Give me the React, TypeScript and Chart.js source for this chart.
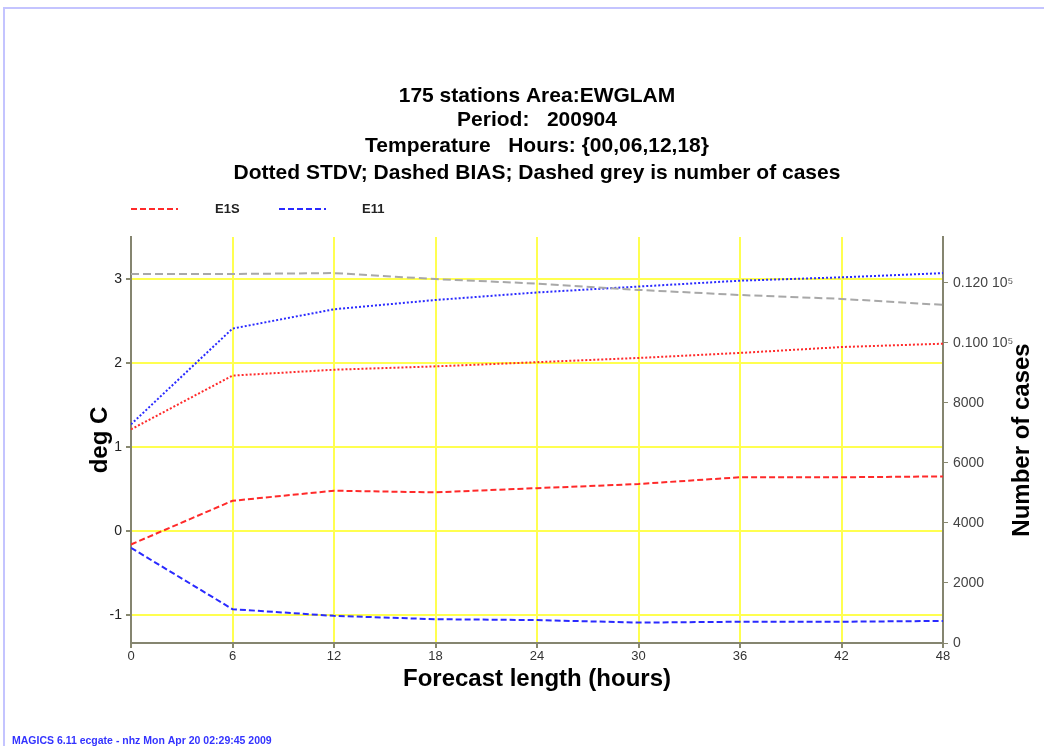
import React, { useEffect, useRef } from "react";
import { Chart, registerables } from "chart.js";

Chart.register(...registerables);

// ---- data ----
const hours = [0, 6, 12, 18, 24, 30, 36, 42, 48];
const e1sStdv = [1.21, 1.85, 1.92, 1.96, 2.01, 2.06, 2.12, 2.19, 2.23];
const e11Stdv = [1.27, 2.41, 2.64, 2.75, 2.84, 2.91, 2.98, 3.02, 3.07];
const e1sBias = [-0.16, 0.36, 0.48, 0.46, 0.51, 0.56, 0.64, 0.64, 0.65];
const e11Bias = [-0.2, -0.93, -1.01, -1.05, -1.06, -1.09, -1.08, -1.08, -1.07];
const cases = [12300, 12300, 12330, 12130, 11980, 11770, 11600, 11470, 11270];

const degTicks = [-1, 0, 1, 2, 3];
const caseTicks = [0, 2000, 4000, 6000, 8000, 10000, 12000];
const caseTickLabels = ["0", "2000", "4000", "6000", "8000", "0.100 10\u2075", "0.120 10\u2075"];
const hourTicks = [0, 6, 12, 18, 24, 30, 36, 42, 48];

const titleLines = [
  "175 stations Area:EWGLAM",
  "Period:   200904",
  "Temperature   Hours: {00,06,12,18}",
  "Dotted STDV; Dashed BIAS; Dashed grey is number of cases",
];
const legendLabels = ["E1S", "E11"];
const xTitle = "Forecast length (hours)";
const yTitle = "deg C";
const y1Title = "Number of cases";
const footer = "MAGICS 6.11 ecgate - nhz Mon Apr 20 02:29:45 2009";

const RED = "#ff2a2a";
const BLUE = "#2a2aff";
const GREY = "#a8a8a8";
const GRID = "#ffff50";
const FONT = "'Liberation Sans', Arial, sans-serif";

const pts = (ys: number[]) => hours.map((h, i) => ({ x: h, y: ys[i] }));

const textPlugin = {
  id: "textPlugin",
  afterDraw(chart: any) {
    const { ctx, chartArea } = chart;
    const cx = (chartArea.left + chartArea.right) / 2;
    ctx.save();
    // title
    ctx.fillStyle = "#000";
    ctx.textAlign = "center";
    ctx.textBaseline = "middle";
    ctx.font = `bold 21px ${FONT}`;
    const ty = [96, 120, 146, 173];
    titleLines.forEach((t, i) => ctx.fillText(t, cx, ty[i]));

    // legend
    const legendCols = [RED, BLUE];
    const sampleX = [131, 279];
    const textX = [215, 362];
    legendLabels.forEach((l, i) => {
      ctx.strokeStyle = legendCols[i];
      ctx.lineWidth = 2;
      ctx.setLineDash([6, 3]);
      ctx.beginPath();
      ctx.moveTo(sampleX[i], 209);
      ctx.lineTo(sampleX[i] + 47, 209);
      ctx.stroke();
      ctx.setLineDash([]);
      ctx.fillStyle = "#222";
      ctx.textAlign = "left";
      ctx.font = `bold 13px ${FONT}`;
      ctx.fillText(l, textX[i], 209);
    });

    // axis titles
    ctx.fillStyle = "#000";
    ctx.font = `bold 24px ${FONT}`;
    ctx.textAlign = "center";
    ctx.fillText(xTitle, cx, 679);

    ctx.save();
    ctx.translate(100, 440);
    ctx.rotate(-Math.PI / 2);
    ctx.fillText(yTitle, 0, 0);
    ctx.restore();

    ctx.save();
    ctx.translate(1022, 440);
    ctx.rotate(-Math.PI / 2);
    ctx.fillText(y1Title, 0, 0);
    ctx.restore();

    // footer
    ctx.fillStyle = "#3333ff";
    ctx.textAlign = "left";
    ctx.font = `bold 10.5px ${FONT}`;
    ctx.fillText(footer, 12, 741);
    ctx.restore();
  },
};

export default function App() {
  const ref = useRef<HTMLCanvasElement | null>(null);
  useEffect(() => {
    if (!ref.current) return;
    const chart = new Chart(ref.current, {
      type: "line",
      data: {
        datasets: [
          {
            label: "cases",
            data: pts(cases),
            yAxisID: "y1",
            borderColor: GREY,
            borderWidth: 2,
            borderDash: [8, 4],
            pointRadius: 0,
            tension: 0,
          },
          {
            label: "E1S STDV",
            data: pts(e1sStdv),
            yAxisID: "y",
            borderColor: RED,
            borderWidth: 2,
            borderDash: [2, 2],
            pointRadius: 0,
          },
          {
            label: "E11 STDV",
            data: pts(e11Stdv),
            yAxisID: "y",
            borderColor: BLUE,
            borderWidth: 2,
            borderDash: [2, 2],
            pointRadius: 0,
          },
          {
            label: "E1S BIAS",
            data: pts(e1sBias),
            yAxisID: "y",
            borderColor: RED,
            borderWidth: 2,
            borderDash: [6, 3],
            pointRadius: 0,
          },
          {
            label: "E11 BIAS",
            data: pts(e11Bias),
            yAxisID: "y",
            borderColor: BLUE,
            borderWidth: 2,
            borderDash: [6, 3],
            pointRadius: 0,
          },
        ],
      },
      options: {
        responsive: false,
        animation: false,
        layout: { padding: { left: 0, top: 237, right: 0, bottom: 63 } },
        plugins: { legend: { display: false }, title: { display: false }, tooltip: { enabled: false } },
        scales: {
          x: {
            type: "linear",
            min: 0,
            max: 48,
            afterBuildTicks: (s: any) => {
              s.ticks = hourTicks.map((v) => ({ value: v }));
            },
            afterFit: (s: any) => {
              s.height = 40;
            },
            grid: { color: GRID, tickColor: "#888870", tickLength: 5, lineWidth: 2 },
            border: { color: "#858570", width: 2 },
            ticks: { color: "#333", font: { family: FONT, size: 13 }, padding: 1, maxRotation: 0 },
          },
          y: {
            type: "linear",
            position: "left",
            min: -1.333,
            max: 3.5,
            afterBuildTicks: (s: any) => {
              s.ticks = degTicks.map((v) => ({ value: v }));
            },
            afterFit: (s: any) => {
              s.width = 131;
            },
            grid: { color: GRID, tickColor: "#888870", tickLength: 5, lineWidth: 2 },
            border: { color: "#858570", width: 2 },
            ticks: { color: "#222", font: { family: FONT, size: 14 }, padding: 4 },
          },
          y1: {
            type: "linear",
            position: "right",
            min: 0,
            max: 13533,
            afterBuildTicks: (s: any) => {
              s.ticks = caseTicks.map((v) => ({ value: v }));
            },
            afterFit: (s: any) => {
              s.width = 101;
            },
            grid: { drawOnChartArea: false, tickColor: "#888870", tickLength: 5 },
            border: { color: "#858570", width: 2 },
            ticks: {
              color: "#444",
              font: { family: FONT, size: 14 },
              padding: 5,
              callback: (v: any) => {
                const i = caseTicks.indexOf(Number(v));
                return i >= 0 ? caseTickLabels[i] : "";
              },
            },
          },
        },
      },
      plugins: [textPlugin],
    } as any);
    return () => chart.destroy();
  }, []);

  return (
    <div
      style={{
        position: "fixed",
        left: 0,
        top: 0,
        width: 1044,
        height: 746,
        background: "#fff",
        overflow: "hidden",
      }}
    >
      <div
        style={{
          position: "absolute",
          left: 3,
          top: 7,
          width: 1044,
          height: 746,
          borderLeft: "2px solid #c4c4ff",
          borderTop: "2px solid #c4c4ff",
        }}
      />
      <canvas ref={ref} width={1044} height={746} style={{ position: "absolute", left: 0, top: 0, width: 1044, height: 746 }} />
    </div>
  );
}
